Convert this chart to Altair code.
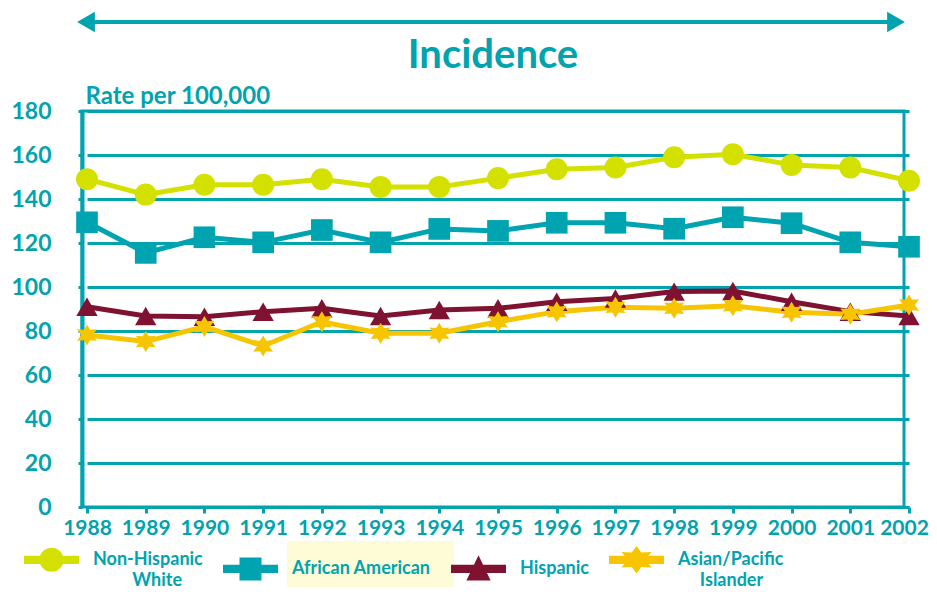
import altair as alt
import pandas as pd

# ---------------- data ----------------
years = list(range(1988, 2003))
series_names = ["Non-Hispanic White", "African American", "Hispanic", "Asian/Pacific Islander"]
white = [149.0, 142.0, 146.5, 146.5, 149.0, 145.5, 145.5, 149.5, 153.5, 154.3, 159.0, 160.3, 155.5, 154.3, 148.3]
african_american = [129.4, 115.5, 122.6, 120.3, 125.9, 120.3, 126.4, 125.5, 129.2, 129.2, 126.5, 131.7, 129.0, 120.3, 118.3]
hispanic = [91.0, 86.8, 86.5, 88.8, 90.3, 86.8, 89.5, 90.3, 93.3, 94.8, 97.9, 98.2, 93.3, 88.8, 86.8]
asian_pi = [78.2, 75.2, 82.0, 73.2, 84.2, 79.0, 79.0, 84.2, 88.8, 90.8, 90.3, 91.5, 88.5, 87.6, 91.8]
y_ticks = list(range(0, 181, 20))

TEAL = "#00A3AE"
FONT = "Lato"
colors = ["#D4E100", "#00A3B0", "#7E1230", "#F7C500"]

rows = []
for name, vals in zip(series_names, [white, african_american, hispanic, asian_pi]):
    for yr, v in zip(years, vals):
        rows.append({"year": yr, "rate": v, "series": name})
df = pd.DataFrame(rows)
one = pd.DataFrame({"k": [0]})

STAR = ("M0,-1L0.3,-0.5L0.95,-0.55L0.55,0L0.95,0.55L0.3,0.5L0,1"
        "L-0.3,0.5L-0.95,0.55L-0.55,0L-0.95,-0.55L-0.3,-0.5Z")


def sh(path_pts):
    return "M" + "L".join(f"{x:.3f},{y:.3f}" for x, y in path_pts) + "Z"


# legend icons: a short line with the series marker on it
BAR = sh([(-1, -0.15), (1, -0.15), (1, 0.15), (-1, 0.15)])
LEG_CIRCLE = BAR + "M0.44,0A0.44,0.44 0 1,1 -0.44,0A0.44,0.44 0 1,1 0.44,0Z"
LEG_SQUARE = BAR + sh([(-0.4, -0.42), (0.4, -0.42), (0.4, 0.42), (-0.4, 0.42)])
LEG_TRI = BAR + sh([(0, -0.5), (0.44, 0.42), (-0.44, 0.42)])
LEG_STAR = BAR + sh([(0, -0.5), (0.17, -0.26), (0.55, -0.28), (0.3, 0), (0.55, 0.28), (0.17, 0.26),
                     (0, 0.5), (-0.17, 0.26), (-0.55, 0.28), (-0.3, 0), (-0.55, -0.28), (-0.17, -0.26)])

shape_signal = (
    f"datum.value == 'Non-Hispanic White' ? '{LEG_CIRCLE}' : "
    f"datum.value == 'African American' ? '{LEG_SQUARE}' : "
    f"datum.value == 'Hispanic' ? '{LEG_TRI}' : '{LEG_STAR}'"
)
NB = "\u00a0"
ZW = "\u200b"
label_expr = (
    f"datum.label == 'Non-Hispanic White' ? ['Non-Hispanic', '{ZW}{NB * 9}White'] : "
    f"datum.label == 'Asian/Pacific Islander' ? ['Asian/Pacific', '{ZW}{NB * 5}Islander'] : datum.label"
)

legend = alt.Legend(
    title=None,
    orient="none",
    legendX=-58,
    legendY=421,
    direction="horizontal",
    columns=4,
    symbolSize=3025,
    symbolType=alt.ExprRef(expr=shape_signal),
    symbolStrokeWidth=0,
    symbolOpacity=1,
    labelOffset=14,
    columnPadding=20,
    labelFont=FONT,
    labelFontSize=18,
    labelFontWeight="bold",
    labelColor=TEAL,
    labelLimit=300,
    labelExpr=label_expr,
)

x_enc = alt.X(
    "year:Q",
    scale=alt.Scale(domain=[1988, 2002], range=[5, 827]),
    axis=alt.Axis(
        values=years, format="d", grid=False, title=None,
        domainColor=TEAL, domainWidth=3, tickColor=TEAL, tickWidth=3, tickSize=6,
        labelPadding=4, labelFontSize=21, labelFontWeight="bold", labelColor=TEAL,
        labelFont=FONT, labelOverlap=False, labelFlush=False,
        labelOffset={"condition": {"test": "datum.value == 2002", "value": -5}, "value": 0},
    ),
)
y_enc = alt.Y(
    "rate:Q",
    scale=alt.Scale(domain=[0, 180], nice=False),
    axis=alt.Axis(
        values=y_ticks, title="Rate per 100,000", grid=True, gridColor=TEAL, gridWidth=3,
        domainColor=TEAL, domainWidth=4, tickColor=TEAL, tickWidth=3, tickSize=4,
        labelPadding=27, labelFontSize=23, labelFontWeight="bold", labelColor=TEAL, labelFont=FONT,
        titleAngle=0, titleX=3, titleY=-8, titleAlign="left", titleBaseline="alphabetic",
        titleFontSize=24, titleFontWeight="bold", titleColor=TEAL, titleFont=FONT,
    ),
)

lines = alt.Chart(df).mark_line(strokeWidth=5).encode(
    x=x_enc,
    y=y_enc,
    stroke=alt.Stroke("series:N", scale=alt.Scale(domain=series_names, range=colors),
                      sort=series_names, legend=None),
)
points = alt.Chart(df).mark_point(filled=True, opacity=1, strokeWidth=0).encode(
    x=x_enc,
    y=y_enc,
    color=alt.Color("series:N", scale=alt.Scale(domain=series_names, range=colors),
                    sort=series_names, legend=legend),
    shape=alt.Shape("series:N", sort=series_names,
                    scale=alt.Scale(domain=series_names, range=["circle", "square", "triangle-up", STAR]),
                    legend=None),
    size=alt.Size("series:N", sort=series_names,
                  scale=alt.Scale(domain=series_names, range=[484, 441, 330, 1000]),
                  legend=None),
)

highlight = alt.Chart(one).mark_rect(color="#FEFCD7").encode(
    x=alt.value(205), x2=alt.value(372), y=alt.value(430), y2=alt.value(476)
)
arrow_line = alt.Chart(one).mark_rule(color=TEAL, strokeWidth=4).encode(
    x=alt.value(0), x2=alt.value(816), y=alt.value(-89)
)
arrow_left = alt.Chart(one).mark_point(shape="triangle-left", filled=True, color=TEAL, size=420, opacity=1).encode(
    x=alt.value(4), y=alt.value(-89)
)
arrow_right = alt.Chart(one).mark_point(shape="triangle-right", filled=True, color=TEAL, size=420, opacity=1).encode(
    x=alt.value(814), y=alt.value(-89)
)

chart = alt.layer(highlight, arrow_line, arrow_left, arrow_right, lines, points).properties(
    width=822,
    height=396,
    background="white",
    autosize=alt.AutoSizeParams(type="none"),
    padding={"left": 74, "top": 103, "right": 25, "bottom": 82},
    title=alt.TitleParams(
        "Incidence", fontSize=40, fontWeight="bold", color=TEAL, font=FONT,
        anchor="middle", offset=-64,
    ),
).resolve_legend(color="independent", stroke="independent").configure(
    view=alt.ViewConfig(stroke=TEAL, strokeWidth=3),
    style={"guide-label": {"lineHeight": 21}},
)

chart.save("out.html", embed_options={"renderer": "svg", "actions": False})
